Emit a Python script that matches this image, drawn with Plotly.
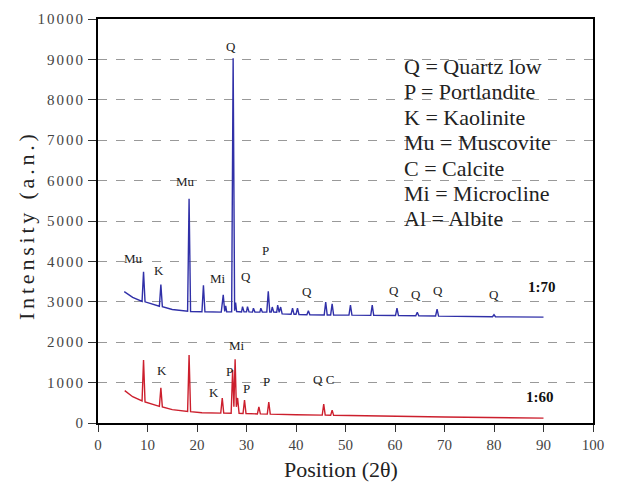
import plotly.graph_objects as go

# ---- data ----
x_170 = [5.3, 7, 8.9, 9.2, 9.5, 12.4, 12.7, 13.0, 15, 18.1, 18.4, 18.7, 21.0, 21.3, 21.6,
         24.9, 25.3, 25.6, 25.8, 26.0, 27.0, 27.3, 27.6, 27.8, 28.0, 29.0, 29.2, 29.5,
         30.0, 30.2, 30.5, 31.2, 31.4, 31.7, 32.7, 32.9, 33.2, 34.1, 34.4, 34.7,
         35.0, 35.2, 35.5, 36.1, 36.3, 36.6, 36.9, 37.2, 39.0, 39.3, 39.6, 40.0, 40.3, 40.6,
         42.2, 42.5, 42.8, 45.7, 46.0, 46.3, 47.0, 47.3, 47.6, 50.7, 51.0, 51.3,
         55.1, 55.4, 55.7, 60.1, 60.4, 60.7, 64.2, 64.5, 64.8, 68.2, 68.5, 68.8,
         79.7, 80.0, 80.3, 90]
y_170 = [3250, 3110, 3010, 3745, 3000, 2890, 3430, 2880, 2810, 2765, 5550, 2760, 2755, 3410, 2755,
         2745, 3170, 2760, 2900, 2750, 2750, 9030, 2780, 2980, 2760, 2750, 2880, 2750,
         2750, 2880, 2750, 2745, 2840, 2745, 2745, 2840, 2745, 2745, 3260, 2745,
         2745, 2870, 2745, 2740, 2920, 2740, 2870, 2700, 2690, 2840, 2690, 2690, 2840, 2685,
         2680, 2780, 2680, 2675, 2990, 2675, 2675, 2950, 2670, 2670, 2920, 2670,
         2665, 2920, 2665, 2660, 2840, 2660, 2655, 2740, 2655, 2650, 2820, 2645,
         2630, 2680, 2630, 2620]

x_160 = [5.4, 7, 8.9, 9.2, 9.5, 12.4, 12.7, 13.0, 15, 18.1, 18.4, 18.7, 21,
         24.8, 25.1, 25.4, 26.9, 27.2, 27.45, 27.7, 27.95, 28.2, 28.5,
         29.3, 29.6, 29.9, 32.2, 32.5, 32.8, 34.2, 34.5, 34.8, 40,
         45.3, 45.6, 45.9, 47.0, 47.3, 47.6, 50, 70, 90]
y_160 = [800, 650, 545, 1560, 520, 410, 870, 395, 330, 285, 1680, 280, 255,
         245, 620, 245, 240, 1310, 400, 1580, 400, 620, 240,
         235, 570, 235, 225, 400, 225, 220, 520, 220, 205,
         195, 470, 195, 190, 320, 190, 185, 150, 120]

# peak labels (text, x, y)
labels_170 = [("Mu", 7.1, 4060), ("K", 12.3, 3770), ("Mu", 17.6, 5970), ("Q", 26.9, 9315),
              ("Mi", 24.3, 3580), ("Q", 29.9, 3620), ("P", 33.9, 4280), ("Q", 42.3, 3250),
              ("Q", 59.7, 3275), ("Q", 64.2, 3170), ("Q", 68.7, 3290), ("Q", 79.9, 3170)]
labels_160 = [("Mi", 28.1, 1930), ("K", 13.0, 1295), ("P", 26.5, 1270), ("K", 23.4, 760),
              ("P", 29.9, 860), ("P", 34.1, 1020), ("Q C", 45.5, 1065)]
series_names = [("1:70", 89.6, 3360), ("1:60", 89.3, 650)]
legend_lines = ["Q = Quartz low", "P = Portlandite", "K = Kaolinite", "Mu = Muscovite",
                "C = Calcite", "Mi = Microcline", "Al = Albite"]
legend_y = [8830, 8200, 7570, 6940, 6310, 5680, 5050]

x_ticks = [0, 10, 20, 30, 40, 50, 60, 70, 80, 90, 100]
y_ticks = [0, 1000, 2000, 3000, 4000, 5000, 6000, 7000, 8000, 9000, 10000]

BLUE = "#3030a8"
RED = "#cc1f2d"
SERIF = "'Liberation Serif', 'Times New Roman', Times, serif"

fig = go.Figure()
fig.add_trace(go.Scatter(x=x_170, y=y_170, mode="lines", line=dict(color=BLUE, width=1.4),
                         name="1:70", showlegend=False))
fig.add_trace(go.Scatter(x=x_160, y=y_160, mode="lines", line=dict(color=RED, width=1.4),
                         name="1:60", showlegend=False))

for t, x, y in labels_170 + labels_160:
    fig.add_annotation(x=x, y=y, text=t, showarrow=False, xanchor="center", yanchor="middle",
                       font=dict(family=SERIF, size=13, color="#222"))
for t, x, y in series_names:
    fig.add_annotation(x=x, y=y, text="<b>" + t + "</b>", showarrow=False,
                       xanchor="center", yanchor="middle",
                       font=dict(family=SERIF, size=15, color="#111"))
for t, y in zip(legend_lines, legend_y):
    fig.add_annotation(x=61.35, y=y, text=t, showarrow=False, xanchor="left", yanchor="middle",
                       font=dict(family=SERIF, size=22, color="#222"))

# axis titles
fig.add_annotation(xref="paper", yref="paper", x=-0.1455, y=0.49, textangle=-90,
                   xanchor="center", yanchor="middle",
                   text='<span style="letter-spacing:3.8px">Intensity (a.n.)</span>',
                   showarrow=False, font=dict(family=SERIF, size=22, color="#222"))
fig.add_annotation(xref="paper", yref="paper", x=0.49, y=-0.114,
                   xanchor="center", yanchor="middle",
                   text="Position (2θ)", showarrow=False,
                   font=dict(family=SERIF, size=22, color="#222"))

fig.update_xaxes(range=[0, 100], tickvals=x_ticks, ticktext=[str(v) for v in x_ticks],
                 showgrid=False, zeroline=False, showline=True, linecolor="black", linewidth=2,
                 mirror=True, ticks="outside", ticklen=7, tickcolor="#333",
                 tickfont=dict(family=SERIF, size=15, color="#444"))
fig.update_yaxes(range=[0, 10000], tickvals=y_ticks,
                 ticktext=['<span style="letter-spacing:2px">%d</span>' % v for v in y_ticks],
                 showgrid=True, gridcolor="#999", griddash="dash", gridwidth=1,
                 zeroline=False, showline=True, linecolor="black", linewidth=2,
                 mirror=True, ticks="outside", ticklen=8, tickcolor="#333",
                 tickfont=dict(family=SERIF, size=15, color="#444"))

fig.update_layout(width=619, height=482, margin=dict(l=98, r=26, t=19, b=59),
                  plot_bgcolor="white", paper_bgcolor="white", showlegend=False,
                  font=dict(family=SERIF))

fig.write_html("out.html")
